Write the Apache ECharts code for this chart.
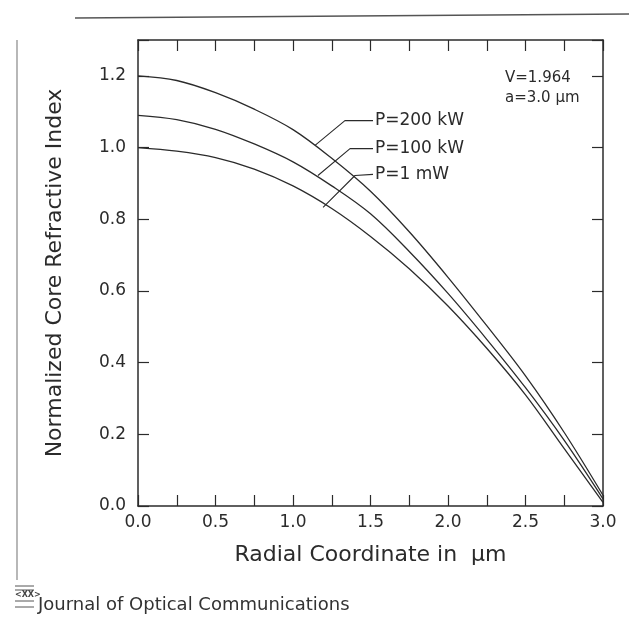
<!DOCTYPE html>
<html lang="en">
	<head>
		<meta charset="utf-8" />
		<title>Normalized Core Refractive Index</title>
		<style>
			html, body { margin: 0; padding: 0; background: #fff; }
			#chart { width: 629px; height: 617px; }
		</style>
	</head>
	<body>
		<div id="chart"></div>

		<script src="https://cdn.jsdelivr.net/npm/echarts@6/dist/echarts.min.js"></script>
		<script type="text/javascript">
			// radial positions (um)
			var radius = [0, 0.25, 0.5, 0.75, 1.0, 1.25, 1.5, 1.75, 2.0, 2.25, 2.5, 2.75, 3.0];
			// index profiles
			var p200kW = [1.20, 1.187, 1.153, 1.107, 1.05, 0.970, 0.878, 0.765, 0.638, 0.503, 0.363, 0.205, 0.03];
			var p100kW = [1.09, 1.078, 1.051, 1.010, 0.96, 0.893, 0.815, 0.710, 0.593, 0.465, 0.330, 0.183, 0.02];
			var p1mW = [1.00, 0.990, 0.972, 0.940, 0.893, 0.830, 0.752, 0.662, 0.558, 0.440, 0.310, 0.160, 0.01];

			var seriesNames = ['P=200 kW', 'P=100 kW', 'P=1 mW'];
			// leader lines from curve to label (data coords)
			var leader200 = [[1.142, 1.006], [1.335, 1.075], [1.516, 1.075]];
			var leader100 = [[1.161, 0.922], [1.368, 0.997], [1.516, 0.997]];
			var leader1 = [[1.194, 0.833], [1.400, 0.922], [1.516, 0.925]];

			var xTicks = [0, 3];
			var yTicks = [0, 1.3];

			var ink = '#2b2b2b';
			var font = 'DejaVu Sans';

			function pairs(ys) {
				return radius.map(function (r, i) { return [r, ys[i]]; });
			}

			function curve(name, ys) {
				return {
					name: name,
					type: 'line',
					data: pairs(ys),
					smooth: 0.35,
					showSymbol: false,
					silent: true,
					lineStyle: { color: ink, width: 1.3 }
				};
			}

			function leader(name, pts) {
				return {
					name: name + ' label',
					type: 'line',
					data: pts,
					showSymbol: false,
					silent: true,
					lineStyle: { color: ink, width: 1.1 },
					endLabel: {
						show: true,
						formatter: name,
						color: ink,
						fontFamily: font,
						fontSize: 17,
						distance: 2
					}
				};
			}

			function frameAxis(extra) {
				var a = {
					type: 'value',
					axisLine: { show: true, onZero: false, lineStyle: { color: ink, width: 1.5 } },
					axisTick: { show: true, inside: true, length: 11, lineStyle: { color: ink, width: 1.2 } },
					splitLine: { show: false }
				};
				for (var k in extra) a[k] = extra[k];
				return a;
			}

			var chart = echarts.init(document.getElementById('chart'));

			var opt = {
				animation: false,
				backgroundColor: '#fff',
				grid: { left: 138, right: 26, top: 40, bottom: 111 },
				xAxis: [
					frameAxis({
						min: xTicks[0],
						max: xTicks[1],
						interval: 0.25,
						name: 'Radial Coordinate in  \u03bcm',
						nameLocation: 'middle',
						nameGap: 38,
						nameTextStyle: { color: ink, fontFamily: font, fontSize: 22 },
						axisLabel: {
							color: ink,
							fontFamily: font,
							fontSize: 17,
							margin: 8,
							formatter: function (v) {
								return Math.round(v * 100) % 50 === 0 ? v.toFixed(1) : '';
							}
						}
					}),
					frameAxis({
						position: 'top',
						min: xTicks[0],
						max: xTicks[1],
						interval: 0.25,
						axisLabel: { show: false }
					})
				],
				yAxis: [
					frameAxis({
						min: yTicks[0],
						max: yTicks[1],
						interval: 0.2,
						name: 'Normalized Core Refractive Index',
						nameLocation: 'middle',
						nameGap: 72,
						nameTextStyle: { color: ink, fontFamily: font, fontSize: 22 },
						axisLabel: {
							color: ink,
							fontFamily: font,
							fontSize: 17,
							margin: 12,
							formatter: function (v) {
								return v > 1.25 ? '' : v.toFixed(1);
							}
						}
					}),
					frameAxis({
						position: 'right',
						min: yTicks[0],
						max: yTicks[1],
						interval: 0.2,
						axisLabel: { show: false }
					})
				],
				series: [
					curve(seriesNames[0], p200kW),
					curve(seriesNames[1], p100kW),
					curve(seriesNames[2], p1mW),
					leader(seriesNames[0], leader200),
					leader(seriesNames[1], leader100),
					leader(seriesNames[2], leader1)
				],
				graphic: [
					// parameters text
					{
						type: 'text', left: 505, top: 68,
						style: { text: 'V=1.964\na=3.0 \u03bcm', fill: ink, font: '15px "DejaVu Sans"', lineHeight: 20, align: 'left' }
					},
					// scan frame lines
					{ type: 'line', shape: { x1: 75, y1: 18, x2: 629, y2: 14 }, style: { stroke: '#555', lineWidth: 1.5 } },
					{ type: 'line', shape: { x1: 17, y1: 40, x2: 17, y2: 580 }, style: { stroke: '#888', lineWidth: 1.2 } },
					// journal logo
					{ type: 'line', shape: { x1: 15, y1: 586, x2: 34, y2: 586 }, style: { stroke: '#555', lineWidth: 1 } },
					{ type: 'line', shape: { x1: 15, y1: 590, x2: 34, y2: 590 }, style: { stroke: '#555', lineWidth: 1 } },
					{
						type: 'text', left: 15, top: 591,
						style: { text: '<XX>', fill: '#444', font: 'bold 8px "DejaVu Sans"' }
					},
					{ type: 'line', shape: { x1: 15, y1: 601, x2: 34, y2: 601 }, style: { stroke: '#555', lineWidth: 1 } },
					{ type: 'line', shape: { x1: 15, y1: 607, x2: 34, y2: 607 }, style: { stroke: '#555', lineWidth: 1 } },
					{
						type: 'text', left: 38, top: 596,
						style: { text: 'Journal of Optical Communications', fill: '#333', font: '18px "DejaVu Sans"' }
					}
				]
			};
			chart.setOption(opt);

			window.onresize = function () {
				chart.resize();
			};
		</script>
	</body>
</html>
